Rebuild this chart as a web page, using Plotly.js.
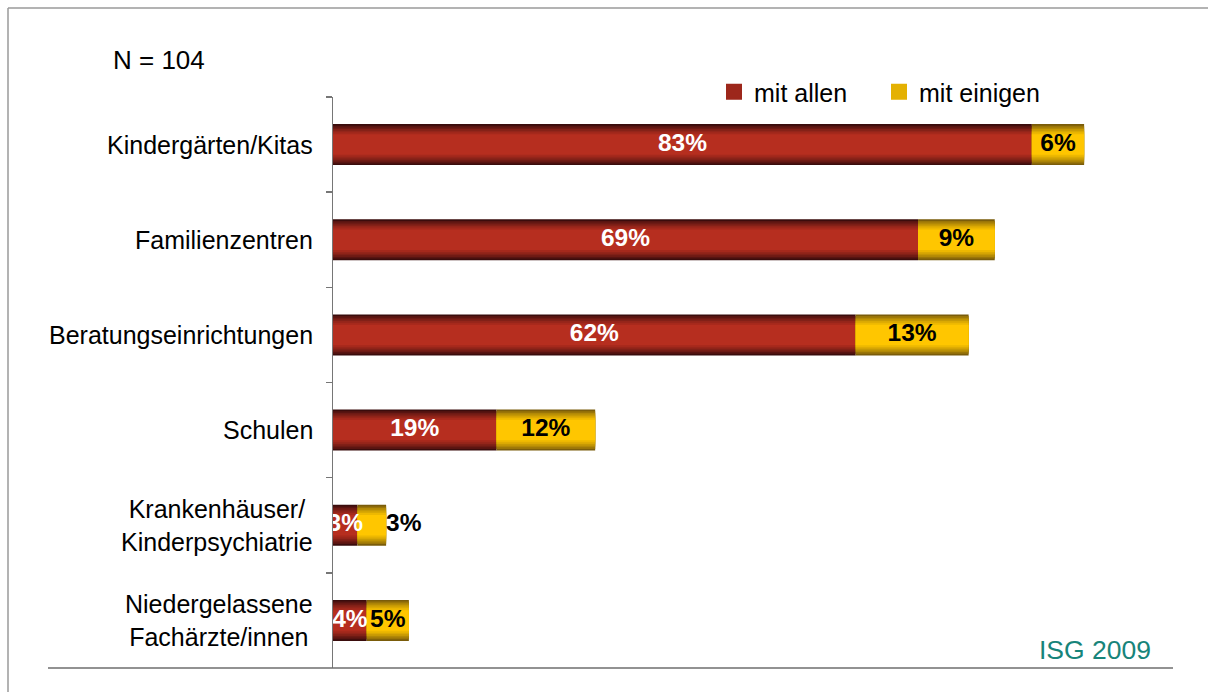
<!DOCTYPE html>
<html>
<head>
<meta charset="utf-8">
<script src="https://cdn.plot.ly/plotly-3.0.1.min.js"></script>
<style>
  html, body { margin: 0; padding: 0; background: #ffffff; }
  #chart { width: 1208px; height: 692px; }
</style>
</head>
<body>
<div id="chart"></div>
<script>
// ---- data ----
const categories = ['Kindergärten/Kitas', 'Familienzentren', 'Beratungseinrichtungen', 'Schulen', 'Krankenhäuser/Kinderpsychiatrie', 'Niedergelassene Fachärzte/innen'];
const categoryLabels = ['Kindergärten/Kitas', 'Familienzentren', 'Beratungseinrichtungen', 'Schulen', 'Krankenhäuser/<br>Kinderpsychiatrie', 'Niedergelassene<br>Fachärzte/innen'];
const mitAllen = [82.9, 69.4, 62.0, 19.4, 2.9, 4.0];
const mitEinigen = [6.2, 9.1, 13.4, 11.7, 3.4, 5.0];
const seriesNames = ['mit allen', 'mit einigen'];
const sampleNote = 'N = 104';
const sourceNote = 'ISG 2009';

// ---- styling helpers ----
const FONT = 'Liberation Sans, Arial, sans-serif';
const BAR_W = 0.43;
const redDark = [58, 12, 12], redBright = [182, 46, 31];
const yelDark = [122, 92, 10], yelBright = [255, 198, 0];
const fracs = [1.0, 0.92, 0.84, 0.76, 0.68, 0.6, 0.5];

function mix(a, b, t) {
  return 'rgb(' + a.map((v, i) => Math.round(v + (b[i] - v) * t)).join(',') + ')';
}

const traces = [];
function addGradientBars(values, base, dark, bright) {
  fracs.forEach((f, k) => {
    const t = k / (fracs.length - 1);
    traces.push({
      type: 'bar', orientation: 'h',
      y: categories, x: values, base: base,
      width: BAR_W * f,
      marker: { color: mix(dark, bright, Math.pow(t, 0.8)), line: { width: 0 } },
      showlegend: false, hoverinfo: 'skip'
    });
  });
}
addGradientBars(mitAllen, mitAllen.map(() => 0), redDark, redBright);
addGradientBars(mitEinigen, mitAllen, yelDark, yelBright);

// value labels
const pct = v => Math.round(v) + '%';
traces.push({
  type: 'scatter', mode: 'text',
  y: categories, x: mitAllen.map(v => v / 2),
  text: mitAllen.map(pct),
  textposition: 'middle center',
  textfont: { family: FONT, size: 24.5, color: '#ffffff', weight: 'bold' },
  cliponaxis: true, showlegend: false, hoverinfo: 'skip'
});
traces.push({
  type: 'scatter', mode: 'text',
  y: categories,
  x: mitEinigen.map((v, i) => v < 4 ? mitAllen[i] + v : mitAllen[i] + v / 2),
  text: mitEinigen.map(pct),
  textposition: mitEinigen.map(v => v < 4 ? 'middle right' : 'middle center'),
  textfont: { family: FONT, size: 24.5, color: '#000000', weight: 'bold' },
  cliponaxis: false, showlegend: false, hoverinfo: 'skip'
});

// legend entries
[[redBright, redDark], [yelBright, yelDark]].forEach((c, i) => {
  traces.push({
    type: 'scatter', mode: 'markers',
    x: [null], y: [categories[0]],
    name: seriesNames[i],
    marker: { symbol: 'square', size: 17, color: mix(c[1], c[0], 0.8), line: { width: 0 } },
    showlegend: true, hoverinfo: 'skip'
  });
});

// ---- layout ----
const L = 333, R = 32, T = 97, B = 24;
const PW = 1208 - L - R, PH = 692 - T - B;
const px = x => (x - L) / PW;
const py = y => (692 - B - y) / PH;

const annotations = categoryLabels.map((lab, i) => ({
  xref: 'paper', yref: 'y', x: px(315), y: categories[i],
  xanchor: 'right', yanchor: 'middle', align: 'center',
  text: lab, showarrow: false,
  font: { family: FONT, size: 25, color: '#000000' }
}));
annotations.push({
  xref: 'paper', yref: 'paper', x: px(111), y: py(60),
  xanchor: 'left', yanchor: 'middle', text: sampleNote, showarrow: false,
  font: { family: FONT, size: 26, color: '#000000' }
});
annotations.push({
  xref: 'paper', yref: 'paper', x: px(1037), y: py(650),
  xanchor: 'left', yanchor: 'middle', text: sourceNote, showarrow: false,
  font: { family: FONT, size: 26.5, color: '#17847a' }
});

const layout = {
  width: 1208, height: 692,
  margin: { l: L, r: R, t: T, b: B, pad: 0 },
  paper_bgcolor: '#ffffff', plot_bgcolor: '#ffffff',
  barmode: 'overlay',
  font: { family: FONT, size: 24, color: '#000000' },
  xaxis: {
    range: [0, 100], showgrid: false, zeroline: false,
    showticklabels: false, ticks: '', showline: false, fixedrange: true
  },
  yaxis: {
    type: 'category', autorange: 'reversed',
    showgrid: false, zeroline: false, showticklabels: false,
    showline: true, linecolor: '#767676', linewidth: 1.5,
    ticks: 'outside', tickson: 'boundaries', ticklen: 6,
    tickcolor: '#767676', tickwidth: 1.5, fixedrange: true
  },
  legend: {
    orientation: 'h', x: px(714), y: py(92),
    xanchor: 'left', yanchor: 'middle',
    entrywidth: 120, entrywidthmode: 'pixels',
    font: { family: FONT, size: 25, color: '#000000' },
    bgcolor: 'rgba(0,0,0,0)', borderwidth: 0,
    itemclick: false, itemdoubleclick: false
  },
  annotations: annotations,
  shapes: [
    { type: 'line', xref: 'paper', yref: 'paper', x0: px(48), x1: px(1173), y0: 0, y1: 0,
      line: { color: '#6e6e6e', width: 1.5 } },
    { type: 'line', xref: 'paper', yref: 'paper', x0: px(8), x1: px(1215), y0: py(8), y1: py(8),
      line: { color: '#9a9a9a', width: 1.5 } },
    { type: 'line', xref: 'paper', yref: 'paper', x0: px(8), x1: px(8), y0: py(8), y1: py(700),
      line: { color: '#9a9a9a', width: 1.5 } }
  ],
  showlegend: true
};

Plotly.newPlot('chart', traces, layout, { displayModeBar: false, staticPlot: true });
</script>
</body>
</html>
